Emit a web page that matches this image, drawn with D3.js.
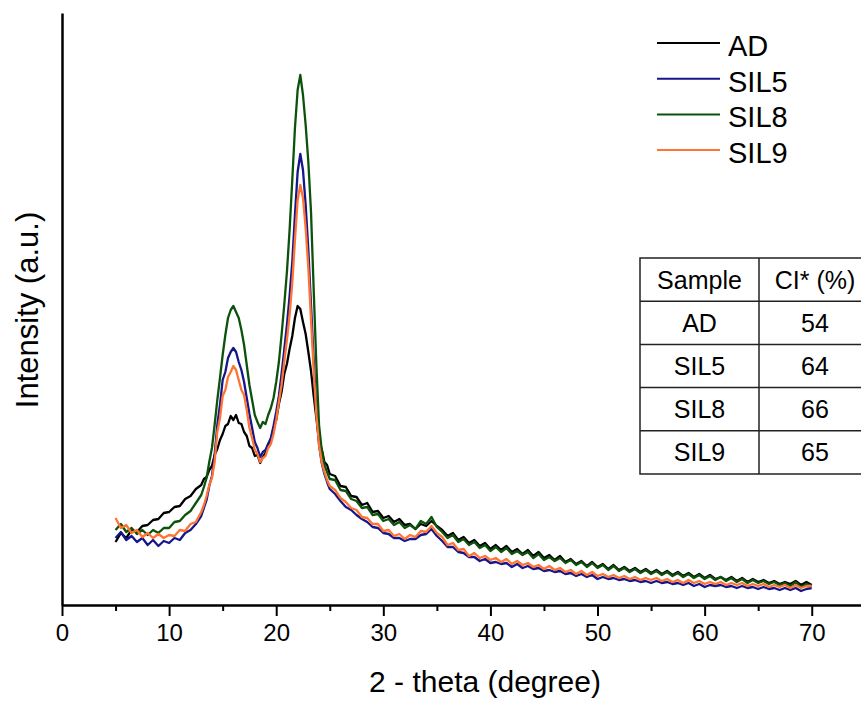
<!DOCTYPE html>
<html lang="en">
<head>
<meta charset="UTF-8">
<title>XRD patterns</title>
<script src="https://cdn.jsdelivr.net/npm/d3@7"></script>
<style>
	body { margin: 0; background: #fff; }
	text { font-family: "Liberation Sans", Arial, sans-serif; fill: #000; }
</style>
</head>
<body>
<svg id="viz"></svg>
<script>
	// Data ---
	const twoTheta = [5,5.5,6,6.5,7,7.5,8,8.5,9,9.5,10,10.5,11,11.5,12,12.5,13,
		13.25,13.5,13.75,14,14.25,14.5,14.75,15,15.25,15.5,15.75,16,16.25,16.5,16.75,17,17.25,17.5,17.75,18,18.25,18.5,18.75,19,19.25,19.5,19.75,20,20.25,20.5,20.75,21,21.25,21.5,21.75,22,22.25,22.5,22.75,23,23.25,23.5,23.75,24,24.25,24.5,24.75,25,
		25.5,26,26.5,27,27.5,28,28.5,29,29.5,30,30.5,31,31.5,32,32.5,33,33.5,34,34.5,35,35.5,36,36.5,37,37.5,38,38.5,39,39.5,40,40.5,41,41.5,42,42.5,43,43.5,44,44.5,45,45.5,46,46.5,47,47.5,48,48.5,49,49.5,50,50.5,51,51.5,52,52.5,53,53.5,54,54.5,55,55.5,56,56.5,57,57.5,58,58.5,59,59.5,60,60.5,61,61.5,62,62.5,63,63.5,64,64.5,65,65.5,66,66.5,67,67.5,68,68.5,69,69.5,70];

	const AD = [63,72,67,75,73,79,80,85,86,92,93,98,99,106,109,116,120,
		126,128,135,139,150,156,165,171,179,181,189,185,190,182,181,173,169,159,157,149,150,142,148,152,161,164,177,185,201,213,231,241,256,269,287,299,296,283,271,253,234,209,187,164,156,143,140,131,
		129,119,118,109,108,100,102,93,94,87,89,83,86,80,81,76,81,79,84,79,75,69,72,65,68,62,65,59,62,56,60,55,59,53,56,51,55,49,53,47,50,45,49,43,46,41,44,39,43,38,41,36,40,35,38,34,37,33,36,32,35,31,34,30,33,29,32,28,31,27,30,26,28,25,28,24,27,23,26,23,25,22,24,21,23,21,24,20,23,20];

	const SIL5 = [67,73,65,69,63,67,60,65,59,64,62,67,65,72,75,81,89,
		97,105,119,129,150,180,200,225,233,247,253,257,253,243,235,223,207,191,177,163,157,148,153,155,161,167,179,193,209,231,255,280,309,343,390,433,451,435,400,355,300,245,195,160,142,131,123,116,
		111,104,98,95,90,86,83,78,77,72,71,67,67,64,66,66,70,71,76,69,64,58,58,53,52,48,48,44,46,42,43,41,42,38,41,37,39,36,37,34,35,33,34,31,32,29,31,28,30,26,28,26,27,25,26,24,25,23,24,22,24,22,23,21,22,20,22,19,21,18,20,19,20,18,19,17,19,17,18,16,18,16,17,15,17,15,17,14,16,17];

	const SIL8 = [75,81,73,77,71,75,70,75,72,77,77,83,84,90,94,102,110,
		118,127,143,157,180,205,227,250,270,287,295,299,293,287,275,260,240,220,205,190,183,177,183,181,190,197,207,223,243,270,300,333,375,425,477,515,530,510,480,443,393,315,240,180,155,140,133,126,
		125,115,114,106,104,97,98,90,91,84,86,80,83,77,80,76,84,81,88,78,73,67,70,63,66,60,63,57,60,54,58,53,57,51,54,50,53,47,51,45,48,44,47,42,45,40,43,38,42,37,40,35,39,34,37,33,36,32,35,31,34,30,33,29,32,28,31,27,30,26,29,25,28,24,27,23,26,22,25,22,24,21,23,20,22,19,23,18,21,19];

	const SIL9 = [87,77,80,72,75,68,72,67,71,67,70,69,75,74,81,83,93,
		100,109,120,127,143,173,187,209,215,228,233,239,235,225,215,210,195,177,167,155,151,143,147,149,157,161,171,185,203,220,243,265,290,322,365,405,420,407,377,337,285,235,190,160,143,133,125,119,
		115,107,103,97,95,88,87,81,81,74,75,69,71,66,70,68,74,73,79,72,68,60,62,55,56,49,52,47,49,45,47,43,46,41,44,40,42,38,40,36,39,35,37,33,35,31,34,30,33,29,31,28,30,27,29,26,28,25,27,25,27,24,26,23,25,22,25,22,24,21,23,21,23,20,22,20,22,19,21,19,21,18,20,18,20,17,20,17,19,19];

	const seriesNames = ['AD', 'SIL5', 'SIL8', 'SIL9'];
	const seriesValues = [AD, SIL5, SIL8, SIL9];
	const seriesColors = ['#000000', '#16168a', '#0c520c', '#ff7433'];

	const tableHeader = ['Sample', 'CI* (%)'];
	const tableSamples = ['AD', 'SIL5', 'SIL8', 'SIL9'];
	const tableCI = [54, 64, 66, 65];

	const majorTicks = [0, 10, 20, 30, 40, 50, 60, 70];
	const minorTicks = [5, 15, 25, 35, 45, 55, 65];

	// Layout ---
	const svgWidth = 861, svgHeight = 701;
	const svg = d3.select('#viz').attr('width', svgWidth).attr('height', svgHeight);

	const x = d3.scaleLinear().domain([0, 74.6]).range([62, 861]);
	const y = d3.scaleLinear().domain([0, 592]).range([605, 13]);

	// Curves ---
	const line = d3.line()
		.x((d, i) => x(twoTheta[i]))
		.y(d => y(d));

	svg.append('g')
		.selectAll('path')
		.data(seriesValues)
		.join('path')
		.attr('d', d => line(d))
		.attr('fill', 'none')
		.attr('stroke', (d, i) => seriesColors[i])
		.attr('stroke-width', 2.3)
		.attr('stroke-linejoin', 'round');

	// Axes ---
	const xAxis = svg.append('g')
		.attr('transform', `translate(0, ${y(0)})`)
		.call(d3.axisBottom(x).tickValues(majorTicks).tickSize(11).tickSizeOuter(0).tickPadding(8));
	xAxis.select('.domain').attr('stroke-width', 2.5);
	xAxis.selectAll('.tick line').attr('stroke-width', 2);
	xAxis.selectAll('.tick text').style('font-size', '24px').style('font-family', '"Liberation Sans", Arial, sans-serif');

	svg.append('g')
		.attr('transform', `translate(0, ${y(0)})`)
		.call(d3.axisBottom(x).tickValues(minorTicks).tickSize(6).tickFormat('').tickSizeOuter(0))
		.call(g => g.select('.domain').remove())
		.selectAll('.tick line').attr('stroke-width', 2);

	const yAxis = svg.append('g')
		.attr('transform', `translate(${x(0)}, 0)`)
		.call(d3.axisLeft(y).ticks(0).tickSizeOuter(0));
	yAxis.select('.domain').attr('stroke-width', 2.5);

	svg.append('text')
		.attr('x', 485).attr('y', 692)
		.attr('text-anchor', 'middle')
		.style('font-size', '30px')
		.text('2 - theta (degree)');

	svg.append('text')
		.attr('transform', 'translate(38, 310) rotate(-90)')
		.attr('text-anchor', 'middle')
		.style('font-size', '31px')
		.text('Intensity (a.u.)');

	// Legend ---
	const legend = svg.append('g')
		.selectAll('g')
		.data(seriesNames)
		.join('g')
		.attr('transform', (d, i) => `translate(657, ${43 + i * 35.7})`);
	legend.append('line')
		.attr('x1', 0).attr('x2', 63)
		.attr('stroke', (d, i) => seriesColors[i])
		.attr('stroke-width', 2);
	legend.append('text')
		.attr('x', 71).attr('y', 13)
		.style('font-size', '29px')
		.text(d => d);

	// CI table ---
	const rows = [tableHeader, ...tableSamples.map((s, i) => [s, String(tableCI[i])])];
	const tblX = 640, tblY = 258, rowH = 43.2, colW = [119, 113];
	const table = svg.append('g');
	table.append('rect')
		.attr('x', tblX).attr('y', tblY)
		.attr('width', colW[0] + colW[1]).attr('height', rowH * rows.length)
		.attr('fill', 'none').attr('stroke', '#222').attr('stroke-width', 1.5);
	table.selectAll('line.row')
		.data(d3.range(1, rows.length))
		.join('line')
		.attr('x1', tblX).attr('x2', tblX + colW[0] + colW[1])
		.attr('y1', d => tblY + d * rowH).attr('y2', d => tblY + d * rowH)
		.attr('stroke', '#222').attr('stroke-width', 1.5);
	table.append('line')
		.attr('x1', tblX + colW[0]).attr('x2', tblX + colW[0])
		.attr('y1', tblY).attr('y2', tblY + rowH * rows.length)
		.attr('stroke', '#222').attr('stroke-width', 1.5);
	rows.forEach((r, i) => {
		r.forEach((cell, j) => {
			table.append('text')
				.attr('x', j === 0 ? tblX + colW[0] / 2 : tblX + colW[0] + 56)
				.attr('y', tblY + i * rowH + rowH / 2 + 9)
				.attr('text-anchor', 'middle')
				.style('font-size', '25px')
				.text(cell);
		});
	});
</script>
</body>
</html>
